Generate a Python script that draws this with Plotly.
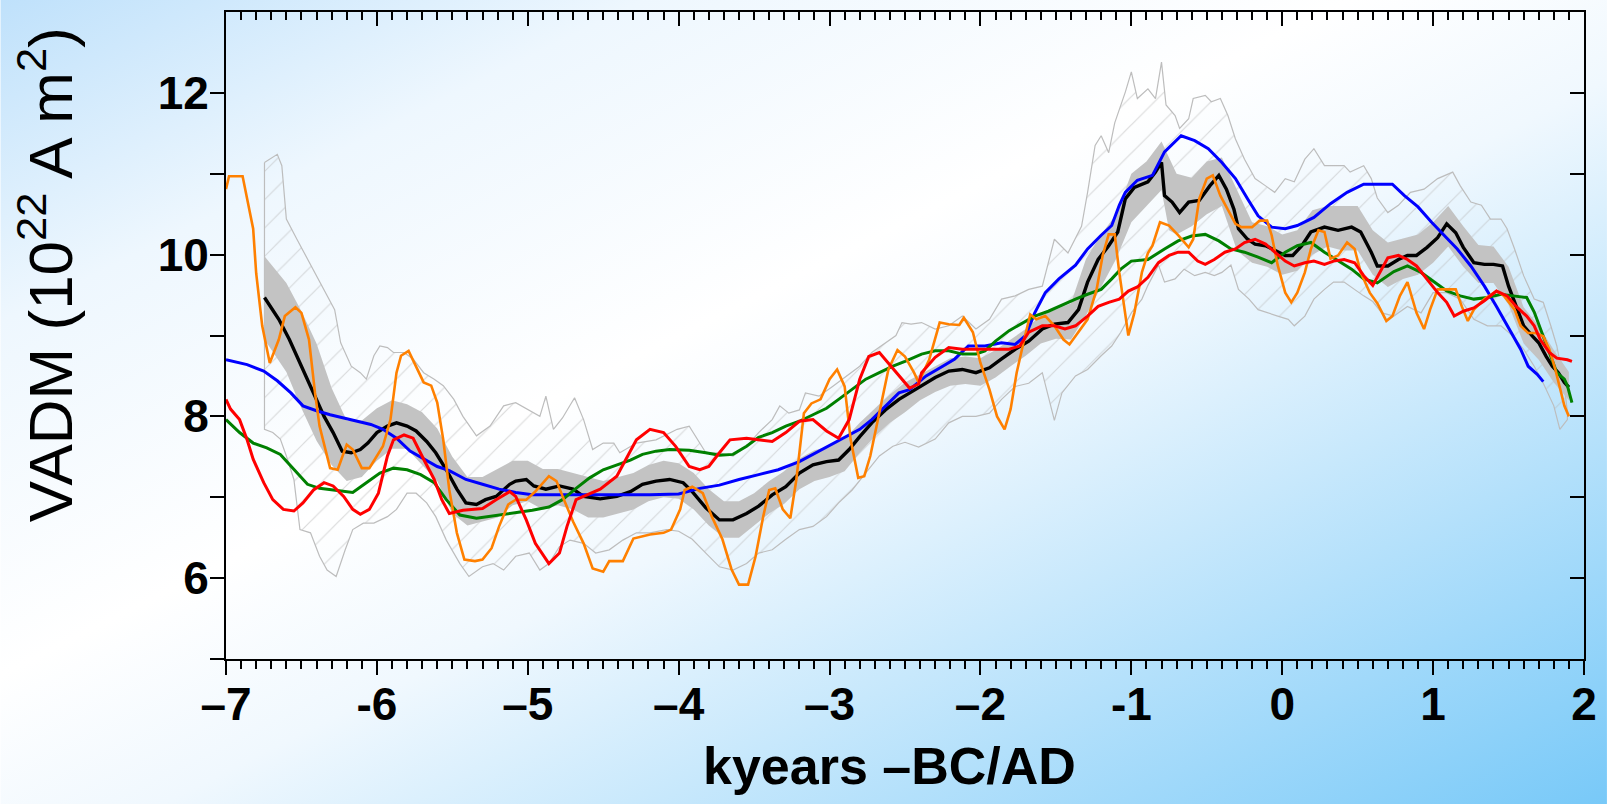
import base64
import plotly.graph_objects as go

# ---------------- data ----------------
orange_x = [-7.00,-6.98,-6.89,-6.82,-6.80,-6.76,-6.71,-6.65,-6.61,-6.54,-6.50,-6.45,-6.41,-6.38,-6.31,-6.26,-6.20,-6.16,-6.10,-6.05,
            -5.96,-5.91,-5.87,-5.84,-5.79,-5.74,-5.69,-5.64,-5.60,-5.56,-5.52,-5.47,-5.42,-5.35,-5.30,-5.24,-5.19,-5.13,-5.08,-5.01,
            -4.95,-4.86,-4.81,-4.76,-4.70,-4.63,-4.57,-4.50,-4.46,-4.37,-4.30,-4.19,-4.10,-4.05,-3.99,-3.96,-3.91,-3.84,-3.78,-3.71,
            -3.65,-3.60,-3.54,-3.49,-3.44,-3.40,-3.36,-3.31,-3.26,-3.22,-3.17,-3.12,-3.06,-3.00,-2.95,-2.90,-2.86,-2.81,-2.77,-2.73,
            -2.67,-2.61,-2.55,-2.50,-2.44,-2.41,-2.34,-2.27,-2.21,-2.14,-2.11,-2.05,-2.00,-1.94,-1.89,-1.84,-1.80,-1.76,-1.71,-1.67,
            -1.63,-1.57,-1.51,-1.45,-1.41,-1.35,-1.29,-1.23,-1.19,-1.15,-1.11,-1.08,-1.04,-1.02,-0.98,-0.93,-0.89,-0.86,-0.81,-0.75,
            -0.69,-0.62,-0.59,-0.55,-0.50,-0.46,-0.41,-0.36,-0.31,-0.27,-0.20,-0.15,-0.10,-0.07,-0.03,0.02,0.06,0.10,0.15,0.19,
            0.24,0.28,0.32,0.37,0.43,0.48,0.52,0.58,0.63,0.69,0.73,0.78,0.83,0.89,0.94,0.98,1.03,1.09,1.15,1.19,
            1.23,1.27,1.34,1.42,1.47,1.54,1.58,1.63,1.68,1.73,1.77,1.81,1.84,1.87,1.90]
orange_y = [10.81,10.97,10.97,10.32,9.77,9.12,8.66,8.95,9.24,9.35,9.28,8.95,8.29,7.88,7.36,7.34,7.65,7.59,7.36,7.36,
            7.63,7.96,8.54,8.75,8.81,8.62,8.42,8.38,8.17,7.71,7.09,6.56,6.23,6.21,6.23,6.37,6.64,6.91,6.97,6.97,
            7.07,7.26,7.20,6.97,6.70,6.43,6.12,6.08,6.21,6.21,6.49,6.54,6.56,6.60,6.85,7.09,7.13,7.05,6.76,6.48,
            6.11,5.92,5.92,6.27,6.76,7.09,7.11,6.85,6.74,7.22,8.04,8.16,8.21,8.46,8.58,8.37,7.71,7.24,7.26,7.51,
            8.04,8.58,8.82,8.74,8.54,8.42,8.70,9.16,9.14,9.13,9.22,9.04,8.66,8.33,8.00,7.84,8.09,8.54,8.95,9.26,
            9.20,9.24,9.12,8.95,8.89,9.04,9.20,9.57,9.99,10.25,10.25,9.78,9.24,9.00,9.28,9.78,10.02,10.11,10.40,10.36,
            10.24,10.09,10.19,10.69,10.94,10.98,10.73,10.56,10.38,10.34,10.34,10.42,10.42,10.24,9.87,9.53,9.41,9.53,9.78,10.07,
            10.30,10.28,9.95,9.99,10.15,10.07,9.78,9.53,9.40,9.18,9.24,9.49,9.66,9.28,9.08,9.32,9.57,9.57,9.57,9.36,
            9.18,9.32,9.45,9.55,9.49,9.32,9.12,9.03,9.03,8.99,8.83,8.58,8.37,8.13,8.00]

black_x = [-6.745,-6.65,-6.58,-6.50,-6.42,-6.35,-6.29,-6.23,-6.17,-6.11,-6.06,-6.00,-5.93,-5.87,-5.80,-5.74,-5.67,-5.61,-5.54,-5.47,
           -5.41,-5.34,-5.28,-5.21,-5.12,-5.08,-5.01,-4.96,-4.88,-4.79,-4.70,-4.63,-4.52,-4.41,-4.32,-4.24,-4.15,-4.06,-3.97,-3.91,
           -3.82,-3.73,-3.64,-3.55,-3.47,-3.38,-3.29,-3.20,-3.11,-3.02,-2.94,-2.87,-2.80,-2.72,-2.63,-2.54,-2.46,-2.39,-2.30,-2.21,
           -2.12,-2.03,-1.94,-1.86,-1.77,-1.68,-1.59,-1.51,-1.42,-1.35,-1.29,-1.22,-1.15,-1.09,-1.04,-0.98,-0.89,-0.84,-0.80,-0.78,
           -0.73,-0.68,-0.62,-0.55,-0.48,-0.42,-0.37,-0.32,-0.29,-0.23,-0.18,-0.11,-0.05,0.02,0.07,0.13,0.19,0.28,0.37,0.46,
           0.52,0.59,0.63,0.70,0.77,0.83,0.89,0.96,1.03,1.09,1.15,1.20,1.27,1.34,1.40,1.46,1.50,1.55,1.60,1.66,
           1.70,1.75,1.79,1.83,1.87,1.90]
black_y = [9.47,9.20,8.95,8.62,8.29,8.00,7.80,7.57,7.55,7.59,7.67,7.80,7.88,7.92,7.88,7.82,7.69,7.55,7.34,7.10,
           6.93,6.91,6.97,7.01,7.16,7.20,7.22,7.14,7.10,7.14,7.10,7.01,6.98,7.01,7.07,7.16,7.20,7.22,7.18,7.07,
           6.87,6.72,6.72,6.80,6.89,7.03,7.13,7.30,7.40,7.44,7.46,7.59,7.75,7.92,8.08,8.21,8.30,8.38,8.48,8.56,
           8.58,8.54,8.60,8.71,8.83,8.93,9.08,9.14,9.16,9.32,9.66,9.94,10.11,10.28,10.69,10.83,10.90,11.02,11.14,10.73,
           10.65,10.52,10.65,10.67,10.85,10.98,10.81,10.56,10.32,10.19,10.13,10.11,10.05,9.99,9.99,10.11,10.28,10.34,10.30,10.34,
           10.28,10.03,9.86,9.86,9.94,9.99,9.99,10.09,10.21,10.38,10.27,10.09,9.90,9.88,9.88,9.86,9.61,9.36,9.12,8.99,
           8.91,8.74,8.62,8.54,8.42,8.36]

blue_x = [-7.00,-6.86,-6.75,-6.66,-6.57,-6.49,-6.40,-6.31,-6.22,-6.13,-6.04,-5.96,-5.87,-5.78,-5.69,-5.60,-5.52,-5.41,-5.30,-5.19,
          -5.08,-4.97,-4.86,-4.63,-4.41,-4.19,-4.00,-3.86,-3.73,-3.60,-3.47,-3.34,-3.20,-3.07,-2.94,-2.80,-2.72,-2.63,-2.54,-2.47,
          -2.36,-2.25,-2.17,-2.08,-1.97,-1.86,-1.77,-1.70,-1.64,-1.57,-1.48,-1.37,-1.29,-1.20,-1.13,-1.08,-1.04,-0.96,-0.86,-0.78,
          -0.67,-0.58,-0.49,-0.40,-0.31,-0.23,-0.16,-0.07,0.02,0.10,0.21,0.32,0.43,0.54,0.73,0.81,0.90,0.99,1.07,1.16,
          1.25,1.34,1.42,1.51,1.58,1.63,1.69,1.73]
blue_y = [8.70,8.64,8.56,8.44,8.29,8.13,8.07,8.02,7.98,7.94,7.90,7.84,7.73,7.57,7.47,7.38,7.33,7.22,7.16,7.10,
          7.06,7.03,7.03,7.03,7.03,7.03,7.04,7.11,7.15,7.22,7.28,7.34,7.44,7.57,7.69,7.84,7.96,8.13,8.29,8.33,
          8.50,8.62,8.71,8.87,8.87,8.91,8.89,9.00,9.28,9.53,9.70,9.87,10.07,10.24,10.36,10.61,10.77,10.92,10.98,11.27,
          11.47,11.41,11.31,11.14,10.94,10.69,10.48,10.34,10.32,10.36,10.46,10.63,10.77,10.87,10.87,10.73,10.59,10.40,10.24,10.07,
          9.86,9.61,9.36,9.07,8.83,8.62,8.52,8.43]

green_x = [-7.00,-6.91,-6.82,-6.73,-6.64,-6.55,-6.46,-6.38,-6.29,-6.20,-6.16,-6.07,-5.98,-5.89,-5.80,-5.71,-5.62,-5.54,-5.45,-5.34,
           -5.19,-5.08,-4.97,-4.86,-4.77,-4.68,-4.59,-4.50,-4.41,-4.32,-4.24,-4.15,-4.06,-3.93,-3.82,-3.73,-3.64,-3.55,-3.47,-3.38,
           -3.29,-3.20,-3.11,-3.02,-2.94,-2.85,-2.76,-2.67,-2.58,-2.50,-2.39,-2.30,-2.21,-2.12,-2.03,-1.97,-1.90,-1.81,-1.72,-1.64,
           -1.55,-1.46,-1.37,-1.29,-1.20,-1.13,-1.07,-1.00,-0.89,-0.78,-0.69,-0.60,-0.51,-0.42,-0.34,-0.25,-0.16,-0.07,0.02,0.10,
           0.19,0.28,0.37,0.46,0.54,0.63,0.74,0.83,0.92,1.00,1.09,1.18,1.27,1.36,1.45,1.53,1.62,1.67,1.71,1.77,
           1.82,1.87,1.89,1.92]
green_y = [7.96,7.80,7.67,7.61,7.53,7.34,7.16,7.11,7.09,7.07,7.06,7.18,7.30,7.36,7.34,7.28,7.18,6.97,6.78,6.74,
           6.78,6.81,6.84,6.88,6.97,7.11,7.24,7.34,7.40,7.46,7.53,7.57,7.59,7.58,7.55,7.52,7.53,7.63,7.74,7.80,
           7.88,7.94,8.02,8.10,8.21,8.33,8.46,8.54,8.62,8.68,8.77,8.81,8.81,8.77,8.77,8.81,8.93,9.06,9.16,9.24,
           9.30,9.38,9.45,9.51,9.57,9.70,9.82,9.92,9.94,10.07,10.17,10.23,10.25,10.17,10.07,10.03,9.97,9.90,10.03,10.11,
           10.15,10.03,9.92,9.82,9.70,9.65,9.79,9.86,9.78,9.67,9.55,9.49,9.45,9.47,9.51,9.49,9.47,9.29,9.08,8.79,
           8.54,8.46,8.38,8.17]

red_x = [-7.00,-6.97,-6.91,-6.86,-6.82,-6.75,-6.69,-6.62,-6.55,-6.49,-6.42,-6.35,-6.29,-6.22,-6.16,-6.11,-6.05,-5.99,-5.93,-5.89,
         -5.82,-5.76,-5.69,-5.62,-5.57,-5.52,-5.43,-5.30,-5.21,-5.12,-5.08,-5.01,-4.95,-4.86,-4.79,-4.74,-4.68,-4.61,-4.52,-4.41,
         -4.35,-4.28,-4.19,-4.10,-4.02,-3.93,-3.86,-3.80,-3.73,-3.66,-3.55,-3.47,-3.38,-3.29,-3.20,-3.11,-3.02,-2.94,-2.87,-2.80,
         -2.74,-2.67,-2.61,-2.54,-2.47,-2.41,-2.39,-2.30,-2.21,-2.12,-1.92,-1.81,-1.74,-1.68,-1.59,-1.51,-1.44,-1.37,-1.29,-1.22,
         -1.15,-1.08,-1.02,-0.96,-0.89,-0.82,-0.75,-0.69,-0.62,-0.56,-0.51,-0.45,-0.38,-0.31,-0.25,-0.18,-0.11,-0.05,0.02,0.08,
         0.15,0.21,0.28,0.34,0.41,0.48,0.54,0.60,0.65,0.70,0.77,0.83,0.89,0.96,1.03,1.09,1.14,1.20,1.27,1.34,
         1.42,1.49,1.55,1.62,1.67,1.71,1.77,1.82,1.89,1.92]
red_y = [8.21,8.09,7.96,7.71,7.47,7.18,6.97,6.85,6.83,6.93,7.09,7.18,7.14,7.01,6.85,6.79,6.85,7.05,7.51,7.71,
         7.77,7.73,7.47,7.22,6.97,6.80,6.84,6.86,6.97,7.07,7.01,6.72,6.43,6.18,6.31,6.64,6.97,7.03,7.10,7.26,
         7.46,7.71,7.84,7.80,7.63,7.38,7.34,7.38,7.55,7.71,7.73,7.71,7.69,7.80,7.94,7.96,7.82,7.73,7.96,8.46,
         8.74,8.79,8.66,8.50,8.35,8.40,8.54,8.73,8.85,8.83,8.83,8.83,8.87,9.04,9.12,9.12,9.08,9.12,9.24,9.36,
         9.41,9.45,9.55,9.60,9.72,9.90,9.99,10.03,10.03,9.92,9.88,9.94,10.03,10.07,10.15,10.19,10.13,10.03,9.92,9.86,
         9.90,9.92,9.88,9.92,9.94,9.90,9.74,9.62,9.80,9.96,9.99,9.94,9.86,9.70,9.53,9.41,9.24,9.30,9.34,9.43,
         9.55,9.49,9.36,9.24,9.12,8.95,8.79,8.72,8.70,8.68]

env_hi_x = [-6.745,-6.66,-6.63,-6.62,-6.60,-6.53,-6.47,-6.40,-6.34,-6.28,-6.24,-6.17,-6.11,-6.07,-6.02,-5.98,-5.93,-5.89,-5.82,-5.76,
            -5.69,-5.62,-5.56,-5.49,-5.43,-5.34,-5.25,-5.16,-5.08,-4.99,-4.92,-4.88,-4.83,-4.77,-4.69,-4.63,-4.57,-4.50,-4.43,-4.39,
            -4.28,-4.15,-4.01,-3.93,-3.89,-3.82,-3.73,-3.64,-3.55,-3.47,-3.38,-3.33,-3.27,-3.20,-3.16,-3.07,-2.98,-2.89,-2.80,-2.72,
            -2.63,-2.56,-2.52,-2.46,-2.39,-2.30,-2.21,-2.12,-2.03,-1.94,-1.86,-1.77,-1.68,-1.59,-1.51,-1.42,-1.33,-1.29,-1.24,-1.20,
            -1.15,-1.11,-1.04,-1.00,-0.96,-0.89,-0.84,-0.80,-0.77,-0.71,-0.68,-0.62,-0.59,-0.51,-0.47,-0.41,-0.36,-0.31,-0.25,-0.18,
            -0.11,-0.05,0.02,0.08,0.15,0.21,0.28,0.34,0.41,0.45,0.54,0.59,0.63,0.70,0.77,0.85,0.94,1.03,1.13,1.18,
            1.25,1.32,1.38,1.45,1.49,1.54,1.60,1.67,1.73,1.78,1.82,1.87,1.89]
env_hi_y = [11.14,11.24,11.10,10.89,10.44,10.19,9.98,9.74,9.53,9.32,8.91,8.62,8.54,8.46,8.75,8.87,8.85,8.79,8.79,8.71,
            8.54,8.46,8.38,8.21,8.00,7.76,7.88,8.13,8.17,8.08,8.00,8.25,7.84,7.98,8.23,7.96,7.59,7.67,7.67,7.55,
            7.67,7.71,7.84,7.88,7.76,7.55,7.55,7.51,7.63,7.80,7.96,8.13,8.04,8.08,8.29,8.25,8.37,8.50,8.62,8.79,
            8.91,9.00,9.16,9.14,9.16,9.08,9.12,9.24,9.08,9.20,9.45,9.49,9.57,9.61,10.19,10.02,10.35,10.77,11.35,11.47,
            11.26,11.63,12.01,12.26,11.93,12.05,11.93,12.38,11.85,11.72,11.56,11.68,11.93,11.97,11.89,11.93,11.72,11.43,11.18,10.94,
            10.85,10.77,10.94,10.90,11.18,11.31,11.10,11.10,11.10,11.02,11.10,10.94,10.70,10.52,10.61,10.77,10.81,10.94,11.02,10.85,
            10.65,10.61,10.44,10.44,10.32,10.07,9.74,9.45,9.41,9.12,8.87,8.38,8.05]

env_lo_x = [-6.745,-6.69,-6.64,-6.60,-6.55,-6.51,-6.44,-6.38,-6.33,-6.27,-6.21,-6.16,-6.09,-6.02,-5.93,-5.87,-5.80,-5.74,-5.67,-5.61,
            -5.54,-5.45,-5.39,-5.30,-5.23,-5.16,-5.08,-4.99,-4.92,-4.86,-4.79,-4.72,-4.63,-4.55,-4.46,-4.37,-4.28,-4.19,-4.08,-4.00,
            -3.91,-3.82,-3.73,-3.64,-3.55,-3.47,-3.38,-3.29,-3.20,-3.11,-3.02,-2.94,-2.85,-2.76,-2.67,-2.58,-2.50,-2.41,-2.30,-2.21,
            -2.12,-2.03,-1.94,-1.86,-1.77,-1.68,-1.59,-1.51,-1.46,-1.37,-1.29,-1.20,-1.13,-1.07,-1.00,-0.93,-0.89,-0.82,-0.78,-0.71,
            -0.65,-0.58,-0.51,-0.45,-0.40,-0.34,-0.29,-0.22,-0.16,-0.09,-0.03,0.04,0.08,0.15,0.21,0.28,0.34,0.41,0.48,0.54,
            0.60,0.66,0.74,0.83,0.92,1.00,1.09,1.18,1.27,1.36,1.45,1.53,1.60,1.67,1.73,1.80,1.84,1.89]
env_lo_y = [7.84,7.80,7.72,7.51,7.22,6.60,6.56,6.27,6.10,6.02,6.35,6.60,6.68,6.68,6.76,6.85,7.05,7.05,6.93,6.76,
            6.47,6.18,6.02,6.14,6.18,6.10,6.27,6.31,6.10,6.18,6.39,6.47,6.43,6.31,6.35,6.47,6.56,6.56,6.60,6.58,
            6.48,6.31,6.14,6.10,6.18,6.31,6.35,6.48,6.60,6.64,6.76,6.93,7.09,7.30,7.51,7.63,7.68,7.62,7.72,7.92,
            8.00,8.00,8.04,8.21,8.37,8.41,8.54,7.95,8.29,8.50,8.58,8.75,8.87,9.04,9.28,9.45,9.62,9.87,9.66,9.70,
            9.82,9.74,9.78,9.74,9.78,9.87,9.57,9.45,9.32,9.28,9.24,9.20,9.12,9.24,9.45,9.57,9.66,9.66,9.57,9.49,
            9.42,9.28,9.24,9.36,9.28,9.53,9.53,9.45,9.20,9.12,9.12,8.99,8.83,8.62,8.41,8.13,7.84,7.96]

band_x = [-6.745,-6.6,-6.5,-6.4,-6.3,-6.2,-6.1,-6.0,-5.9,-5.8,-5.7,-5.6,-5.5,-5.4,-5.3,-5.2,-5.1,-5.0,-4.9,-4.8,
          -4.7,-4.6,-4.5,-4.4,-4.3,-4.2,-4.1,-4.0,-3.9,-3.8,-3.7,-3.6,-3.5,-3.4,-3.3,-3.2,-3.1,-3.0,-2.9,-2.8,
          -2.7,-2.6,-2.5,-2.4,-2.3,-2.2,-2.1,-2.0,-1.9,-1.8,-1.7,-1.6,-1.5,-1.4,-1.3,-1.2,-1.1,-1.0,-0.9,-0.8,
          -0.75,-0.7,-0.6,-0.5,-0.4,-0.3,-0.2,-0.1,0.0,0.1,0.2,0.3,0.4,0.5,0.6,0.7,0.8,0.9,1.0,1.1,
          1.2,1.3,1.4,1.5,1.6,1.7,1.8,1.9]
band_hi = [9.98,9.65,9.30,8.90,8.35,7.95,7.95,8.10,8.20,8.15,8.05,7.85,7.50,7.25,7.25,7.35,7.45,7.45,7.35,7.35,
           7.30,7.25,7.20,7.25,7.30,7.40,7.45,7.42,7.30,7.10,6.95,6.95,7.05,7.20,7.32,7.48,7.58,7.63,7.72,7.92,
           8.10,8.27,8.42,8.52,8.62,8.72,8.74,8.72,8.82,8.95,9.08,9.25,9.32,9.40,9.95,10.25,10.50,11.00,11.15,11.40,
           11.20,11.00,10.95,11.15,11.20,10.80,10.40,10.35,10.25,10.30,10.55,10.60,10.60,10.60,10.30,10.15,10.20,10.25,10.40,10.60,
           10.35,10.12,10.10,9.85,9.35,9.12,8.82,8.55]
band_lo = [8.95,8.55,8.10,7.70,7.40,7.20,7.25,7.45,7.60,7.60,7.40,7.20,6.80,6.65,6.70,6.75,6.90,6.95,6.85,6.90,
           6.85,6.75,6.75,6.80,6.85,6.95,7.00,6.98,6.85,6.65,6.50,6.50,6.65,6.80,6.92,7.10,7.20,7.25,7.32,7.55,
           7.75,7.92,8.05,8.20,8.30,8.38,8.40,8.38,8.48,8.62,8.75,8.90,8.96,8.95,9.25,9.60,9.95,10.40,10.60,10.80,
           10.30,10.25,10.35,10.50,10.60,10.05,9.90,9.85,9.75,9.80,10.00,10.10,10.05,10.05,9.75,9.60,9.70,9.75,9.90,10.10,
           9.85,9.65,9.65,9.38,8.90,8.70,8.42,8.20]

x_ticks = [-7, -6, -5, -4, -3, -2, -1, 0, 1, 2]
x_ticktext = ["–7", "-6", "–5", "–4", "–3", "–2", "-1", "0", "1", "2"]
y_ticks = [5, 6, 7, 8, 9, 10, 11, 12]
y_ticktext = [" ", "6", " ", "8", " ", "10", " ", "12"]

# ---------------- figure ----------------
W, H = 1609, 804
ML, MR, MT, MB = 226, 23, 12, 145
PW, PH = W - ML - MR, H - MT - MB
FONT = "Liberation Sans, Arial, Helvetica, sans-serif"

fig = go.Figure()

# hatched envelope
fig.add_trace(go.Scatter(
    x=env_hi_x + env_lo_x[::-1] + env_hi_x[:1],
    y=env_hi_y + env_lo_y[::-1] + env_hi_y[:1],
    mode="lines", fill="toself", fillcolor="rgba(0,0,0,0)",
    fillpattern=dict(shape="/", fgcolor="#b8b8b8", bgcolor="rgba(0,0,0,0)", size=20, solidity=0.06),
    line=dict(color="#bdbdbd", width=1.2), hoverinfo="skip", showlegend=False))

# grey sigma band
fig.add_trace(go.Scatter(
    x=band_x + band_x[::-1], y=band_hi + band_lo[::-1],
    mode="lines", fill="toself", fillcolor="#c3c3c3",
    line=dict(width=0, color="#c3c3c3"), hoverinfo="skip", showlegend=False))

fig.add_trace(go.Scatter(x=black_x, y=black_y, mode="lines", line=dict(color="black", width=3.4), showlegend=False))
fig.add_trace(go.Scatter(x=blue_x, y=blue_y, mode="lines", line=dict(color="#0000ff", width=3), showlegend=False))
fig.add_trace(go.Scatter(x=green_x, y=green_y, mode="lines", line=dict(color="#008000", width=3), showlegend=False))
fig.add_trace(go.Scatter(x=orange_x, y=orange_y, mode="lines", line=dict(color="#ff8000", width=2.6), showlegend=False))
fig.add_trace(go.Scatter(x=red_x, y=red_y, mode="lines", line=dict(color="#ff0000", width=3), showlegend=False))

# empty trace to realise the mirrored (top/right) axes
fig.add_trace(go.Scatter(x=[], y=[], xaxis="x2", yaxis="y2", showlegend=False, hoverinfo="skip"))

svg = (
    f"<svg xmlns='http://www.w3.org/2000/svg' width='{W}' height='{H}' viewBox='0 0 {W} {H}' preserveAspectRatio='none'>"
    "<defs><linearGradient id='g' x1='0' y1='0' x2='1' y2='1'>"
    "<stop offset='0' stop-color='#bfe1fb'/>"
    "<stop offset='0.2' stop-color='#eef7fe'/>"
    "<stop offset='0.42' stop-color='#ffffff'/>"
    "<stop offset='0.55' stop-color='#f0f8fe'/>"
    "<stop offset='1' stop-color='#78c9f8'/>"
    "</linearGradient></defs>"
    f"<rect x='0' y='0' width='{W}' height='{H}' fill='url(#g)'/></svg>"
)
src = "data:image/svg+xml;base64," + base64.b64encode(svg.encode()).decode()

axis_common = dict(showgrid=False, zeroline=False, showline=True, linecolor="black", linewidth=2)

fig.update_layout(
    width=W, height=H, autosize=False,
    margin=dict(l=ML, r=MR, t=MT, b=MB, pad=0),
    paper_bgcolor="white", plot_bgcolor="rgba(0,0,0,0)",
    showlegend=False,
    font=dict(family=FONT, color="black"),
    images=[dict(source=src, xref="paper", yref="paper",
                 x=-ML / PW, y=1 + MT / PH, sizex=W / PW, sizey=H / PH,
                 xanchor="left", yanchor="top", sizing="stretch", layer="below")],
    xaxis=dict(range=[-7, 2], tickmode="array", tickvals=x_ticks, ticktext=x_ticktext,
               ticks="outside", ticklen=14, tickwidth=2, tickcolor="black", ticklabelstandoff=-10,
               tickfont=dict(size=46, family=FONT, weight="bold", color="black"),
               minor=dict(dtick=0.1, tick0=-7, ticks="outside", ticklen=8, tickwidth=1.5, tickcolor="black"),
               **axis_common),
    xaxis2=dict(range=[-7, 2], overlaying="x", side="top", tickmode="array", tickvals=x_ticks,
                ticks="inside", ticklen=14, tickwidth=2, tickcolor="black", showticklabels=False,
                minor=dict(dtick=0.1, tick0=-7, ticks="inside", ticklen=8, tickwidth=1.5, tickcolor="black"),
                **axis_common),
    yaxis=dict(range=[5, 13], tickmode="array", tickvals=y_ticks, ticktext=y_ticktext,
               ticks="outside", ticklen=14, tickwidth=2, tickcolor="black", ticklabelstandoff=-8,
               tickfont=dict(size=46, family=FONT, weight="bold", color="black"),
               **axis_common),
    yaxis2=dict(range=[5, 13], overlaying="y", side="right", tickmode="array", tickvals=y_ticks,
                ticks="inside", ticklen=14, tickwidth=2, tickcolor="black", showticklabels=False,
                **axis_common),
    annotations=[
        dict(text="VADM (10<sup>22</sup> A m<sup>2</sup>)", textangle=-90, showarrow=False,
             xref="paper", yref="paper", x=(46 - ML) / PW, y=1 - (275 - MT) / PH,
             xanchor="center", yanchor="middle",
             font=dict(size=62, family=FONT, color="black")),
        dict(text="kyears –BC/AD", showarrow=False,
             xref="paper", yref="paper", x=(890 - ML) / PW, y=1 - (766 - MT) / PH,
             xanchor="center", yanchor="middle",
             font=dict(size=52, family=FONT, weight="bold", color="black")),
    ],
)

fig.write_html("out.html")
